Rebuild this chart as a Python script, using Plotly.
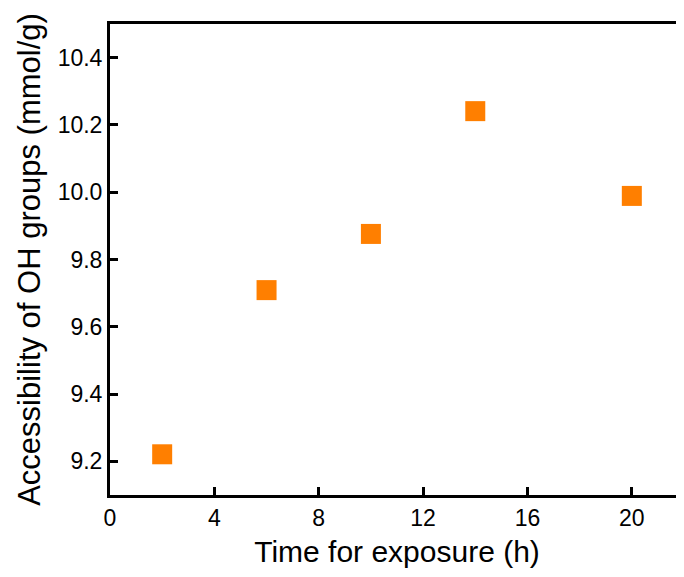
import plotly.graph_objects as go

time_h = [2, 6, 10, 14, 20]
oh_access = [9.221, 9.709, 9.876, 10.241, 9.989]
x_ticks = [0, 4, 8, 12, 16, 20]
y_ticks = [9.2, 9.4, 9.6, 9.8, 10.0, 10.2, 10.4]

fig = go.Figure(go.Scatter(
    x=time_h, y=oh_access, mode="markers",
    marker=dict(symbol="square", size=20, color="#FF7F00", line=dict(width=0)),
    showlegend=False,
))

font = "Liberation Sans, Arial, sans-serif"
fig.update_layout(
    width=676, height=569,
    margin=dict(l=102, r=0, t=16, b=82),
    paper_bgcolor="white", plot_bgcolor="white",
    font=dict(family=font, color="black"),
)
fig.update_xaxes(
    range=[0, 22], tickvals=x_ticks, ticktext=[str(v) for v in x_ticks],
    ticks="inside", ticklen=8, tickwidth=3, tickcolor="black",
    showline=True, linewidth=3, linecolor="black", mirror=True,
    showgrid=False, zeroline=False,
    tickfont=dict(size=23, family=font),
    title=dict(text="Time for exposure (h)", font=dict(size=30, family=font), standoff=12),
)
fig.update_yaxes(
    range=[9.1, 10.5], tickvals=y_ticks, ticktext=[f"{v:.1f}" for v in y_ticks],
    ticks="inside", ticklen=8, tickwidth=3, tickcolor="black",
    showline=True, linewidth=3, linecolor="black", mirror=False,
    showgrid=False, zeroline=False,
    tickfont=dict(size=23, family=font),
    title=dict(text="Accessibility of OH groups (mmol/g)", font=dict(size=31, family=font), standoff=8),
)
fig.write_html("out.html")
